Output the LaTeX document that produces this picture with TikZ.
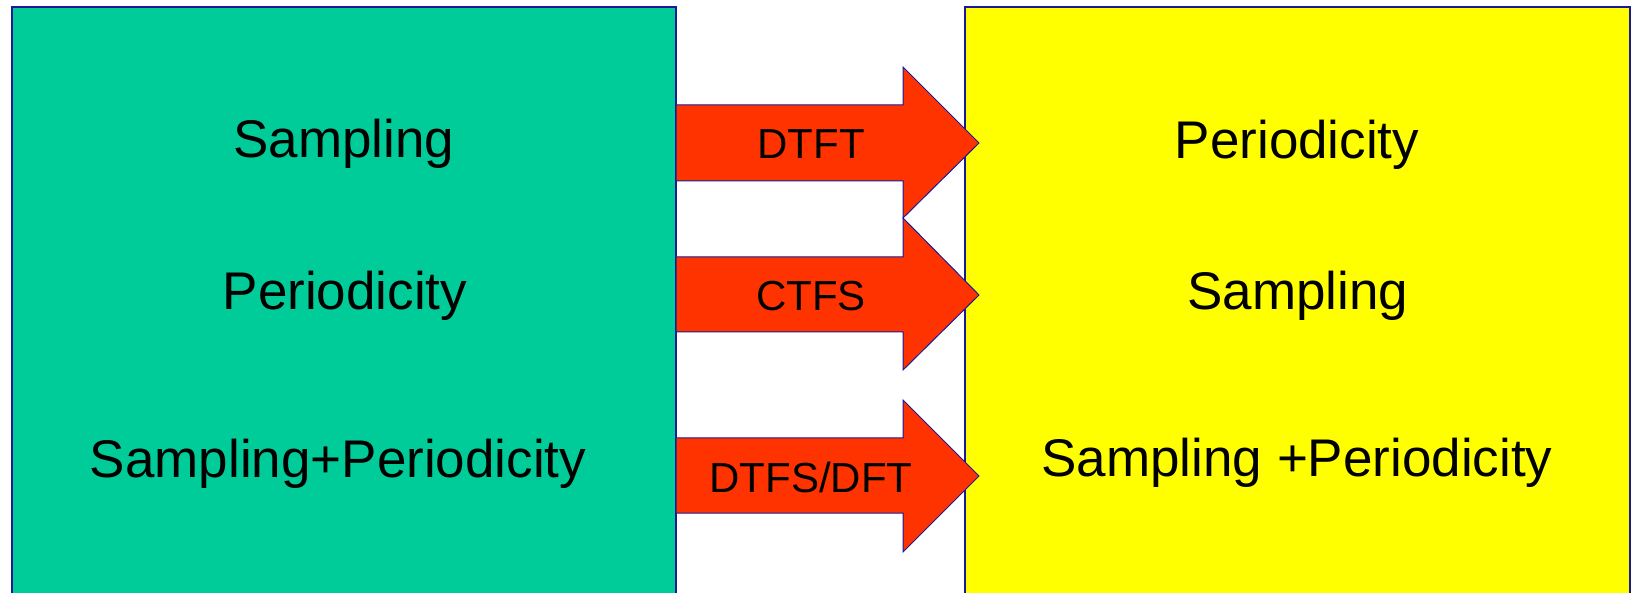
\documentclass[tikz,border=0pt]{standalone}
\usepackage{fontspec}
\setmainfont{Liberation Sans}
\definecolor{boxgreen}{HTML}{00CC99}
\definecolor{boxyellow}{HTML}{FFFF00}
\definecolor{arrred}{HTML}{FF3300}
\definecolor{edgeblue}{HTML}{1A1A99}
\tikzset{
  panel/.style={draw=edgeblue, line width=1.5pt},
  bigarrow/.style={fill=arrred, draw=edgeblue, line width=1pt, line join=miter},
  bigtext/.style={anchor=base, inner sep=0pt, font=\fontsize{53}{60}\selectfont},
  arrtext/.style={anchor=base, inner sep=0pt, font=\fontsize{42}{50}\selectfont},
}
\begin{document}
\begin{tikzpicture}[x=1pt,y=1pt]
\useasboundingbox (0,0) rectangle (1631,-593);
\clip (0,0) rectangle (1631,-593);
\fill[white] (0,0) rectangle (1631,-593);
% panels
\draw[panel, fill=boxgreen] (12,-7) rectangle (676,-610);
\draw[panel, fill=boxyellow] (965,-7) rectangle (1630,-610);
% arrows
\draw[bigarrow] (676,-105) -- (903,-105) -- (903,-67) -- (979,-143) -- (903,-218) -- (903,-181) -- (676,-181) -- cycle;
\draw[bigarrow] (676,-257) -- (903,-257) -- (903,-218) -- (979,-295) -- (903,-370) -- (903,-332) -- (676,-332) -- cycle;
\draw[bigarrow] (676,-438) -- (903,-438) -- (903,-400) -- (979,-476) -- (903,-552) -- (903,-513) -- (676,-513) -- cycle;
% left texts
\node[bigtext] (l1) at (344,-158) {Sampling};
\node[bigtext] (l2) at (345,-310) {Periodicity};
\node[bigtext] (l3) at (338,-477) {Sampling+Periodicity};
% right texts
\node[bigtext] (r1) at (1297,-159) {Periodicity};
\node[bigtext] (r2) at (1298,-310) {Sampling};
\node[bigtext] (r3) at (1297,-476) {Sampling +Periodicity};
% arrow labels
\node[arrtext] (a1) at (811,-159) {DTFT};
\node[arrtext] (a2) at (811,-311) {CTFS};
\node[arrtext] (a3) at (811,-492) {DTFS/DFT};
\end{tikzpicture}
\end{document}
